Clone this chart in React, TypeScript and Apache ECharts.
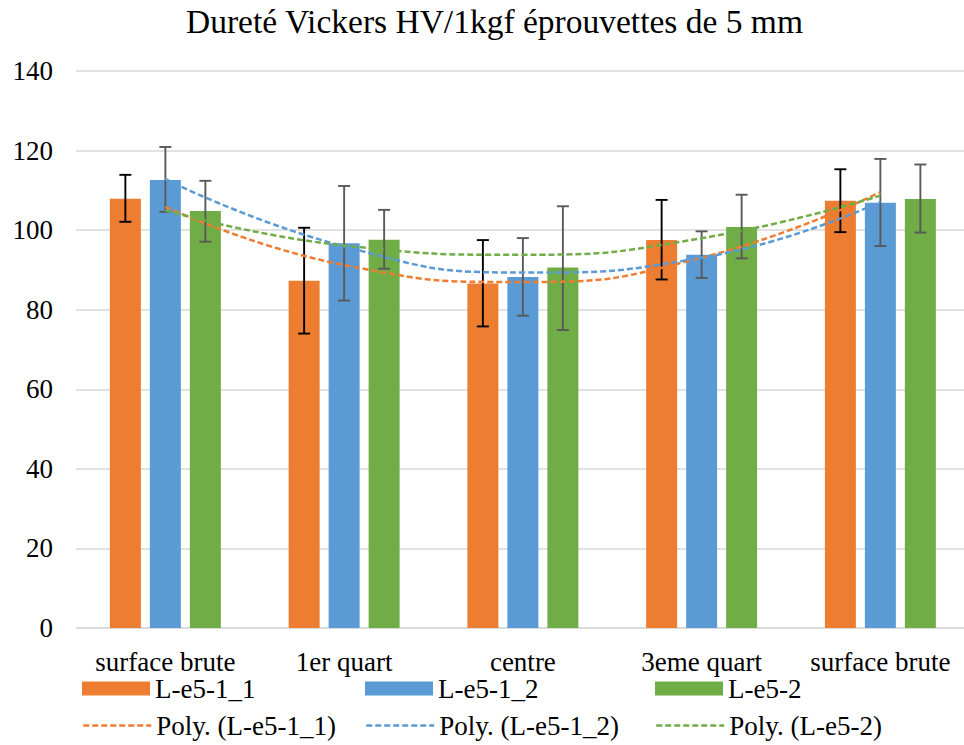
import React, { useEffect, useRef } from "react";
import * as echarts from "echarts";

const title = "Dureté Vickers HV/1kgf éprouvettes de 5 mm";
const categories = ["surface brute", "1er quart", "centre", "3eme quart", "surface brute"];
const seriesNames = ["L-e5-1_1", "L-e5-1_2", "L-e5-2"];
const trendNames = ["Poly. (L-e5-1_1)", "Poly. (L-e5-1_2)", "Poly. (L-e5-2)"];

const valuesA = [107.9, 87.3, 86.6, 97.5, 107.4];
const valuesB = [112.6, 96.7, 88.2, 93.8, 106.9];
const valuesC = [104.8, 97.6, 90.6, 100.8, 107.8];

const errLowA = [102.1, 74.0, 75.8, 87.6, 99.5];
const errHighA = [113.9, 100.6, 97.5, 107.6, 115.3];
const errLowB = [104.6, 82.3, 78.5, 88.0, 96.0];
const errHighB = [120.9, 111.1, 98.0, 99.7, 117.9];
const errLowC = [97.1, 90.3, 74.9, 92.9, 99.4];
const errHighC = [112.4, 105.1, 106.0, 108.9, 116.5];

const yTicks = { min: 0, max: 140, interval: 20 };

const colors = ["#ED7D31", "#5B9BD5", "#70AD47"];
const errColors = ["#000000", "#595959", "#595959"];
const FONT = "Liberation Serif";

// Second-order polynomial least-squares trendline (as the spreadsheet does), evaluated at each category.
function polyTrend(ys: number[]): number[] {
  const n = ys.length;
  const xs = ys.map((_, i) => i + 1);
  let s0 = n, s1 = 0, s2 = 0, s3 = 0, s4 = 0, t0 = 0, t1 = 0, t2 = 0;
  for (let i = 0; i < n; i++) {
    const x = xs[i], y = ys[i];
    s1 += x; s2 += x * x; s3 += x * x * x; s4 += x * x * x * x;
    t0 += y; t1 += x * y; t2 += x * x * y;
  }
  const M = [
    [s0, s1, s2, t0],
    [s1, s2, s3, t1],
    [s2, s3, s4, t2],
  ];
  for (let c = 0; c < 3; c++) {
    for (let r = c + 1; r < 3; r++) {
      const f = M[r][c] / M[c][c];
      for (let k = c; k < 4; k++) M[r][k] -= f * M[c][k];
    }
  }
  const coef = [0, 0, 0];
  for (let r = 2; r >= 0; r--) {
    let s = M[r][3];
    for (let k = r + 1; k < 3; k++) s -= M[r][k] * coef[k];
    coef[r] = s / M[r][r];
  }
  return xs.map((x) => coef[0] + coef[1] * x + coef[2] * x * x);
}

export default function App() {
  const ref = useRef<HTMLDivElement>(null);
  useEffect(() => {
    if (!ref.current) return;
    const chart = echarts.init(ref.current, undefined, { renderer: "svg" });
    const values = [valuesA, valuesB, valuesC];
    const lows = [errLowA, errLowB, errLowC];
    const highs = [errHighA, errHighB, errHighC];
    const BAR_W = 31;
    const STEP = 40;

    const barSeries = values.map((v, i) => ({
      name: seriesNames[i],
      type: "bar",
      data: v,
      barWidth: BAR_W,
      barGap: "29%",
      itemStyle: { color: colors[i] },
      z: 2,
    }));

    const errSeries = values.map((v, i) => ({
      type: "custom",
      name: "err" + i,
      z: 3,
      encode: { x: 0, y: [1, 2] },
      data: categories.map((_, k) => [k, lows[i][k], highs[i][k]]),
      renderItem: (params: any, api: any) => {
        const idx = api.value(0);
        const lo = api.coord([idx, api.value(1)]);
        const hi = api.coord([idx, api.value(2)]);
        const cx = lo[0] + (i - 1) * STEP;
        const hw = 6;
        const style = { stroke: errColors[i], lineWidth: 1.9 };
        return {
          type: "group",
          children: [
            { type: "line", shape: { x1: cx, y1: lo[1], x2: cx, y2: hi[1] }, style },
            { type: "line", shape: { x1: cx - hw, y1: hi[1], x2: cx + hw, y2: hi[1] }, style },
            { type: "line", shape: { x1: cx - hw, y1: lo[1], x2: cx + hw, y2: lo[1] }, style },
          ],
        };
      },
    }));

    const trendSeries = values.map((v, i) => ({
      name: trendNames[i],
      type: "line",
      data: polyTrend(v),
      smooth: 0.5,
      symbol: "none",
      lineStyle: { color: colors[i], width: 2.5, type: [6, 3] },
      itemStyle: { color: colors[i] },
      z: 4,
    }));

    const legendLefts = [82, 365, 655];
    const legends: any[] = [];
    seriesNames.forEach((n, i) => {
      legends.push({
        data: [n],
        left: legendLefts[i],
        top: 675,
        padding: 0,
        icon: "rect",
        itemWidth: 68,
        itemHeight: 14,
        selectedMode: false,
        textStyle: { fontFamily: FONT, fontSize: 27, color: "#000" },
      });
      legends.push({
        data: [trendNames[i]],
        left: legendLefts[i],
        top: 712,
        padding: 0,
        itemWidth: 68,
        itemHeight: 14,
        selectedMode: false,
        itemStyle: { opacity: 0 },
        lineStyle: { width: 2.5, type: [6, 3] },
        textStyle: { fontFamily: FONT, fontSize: 27, color: "#000" },
      });
    });

    chart.setOption({
      animation: false,
      backgroundColor: "#ffffff",
      textStyle: { fontFamily: FONT },
      title: {
        text: title,
        left: 186,
        top: 4,
        padding: 0,
        textStyle: { fontFamily: FONT, fontSize: 33.5, fontWeight: "normal", color: "#000" },
      },
      legend: legends,
      grid: { left: 76, right: 10.25, top: 71, bottom: 117, containLabel: false },
      xAxis: {
        type: "category",
        data: categories,
        axisTick: { show: false },
        axisLine: { lineStyle: { color: "#d9d9d9", width: 1.5 } },
        axisLabel: { fontFamily: FONT, fontSize: 27, color: "#000", margin: 20, interval: 0 },
      },
      yAxis: {
        type: "value",
        min: yTicks.min,
        max: yTicks.max,
        interval: yTicks.interval,
        axisLine: { show: false },
        axisTick: { show: false },
        splitLine: { lineStyle: { color: "#d9d9d9", width: 1.5 } },
        axisLabel: { fontFamily: FONT, fontSize: 27, color: "#000", margin: 23 },
      },
      series: [...barSeries, ...errSeries, ...trendSeries],
    });
    return () => chart.dispose();
  }, []);
  return (
    <div style={{ position: "absolute", left: 0, top: 0, width: 964, height: 745, overflow: "hidden" }}>
      <div ref={ref} style={{ width: 980, height: 745 }} />
    </div>
  );
}
